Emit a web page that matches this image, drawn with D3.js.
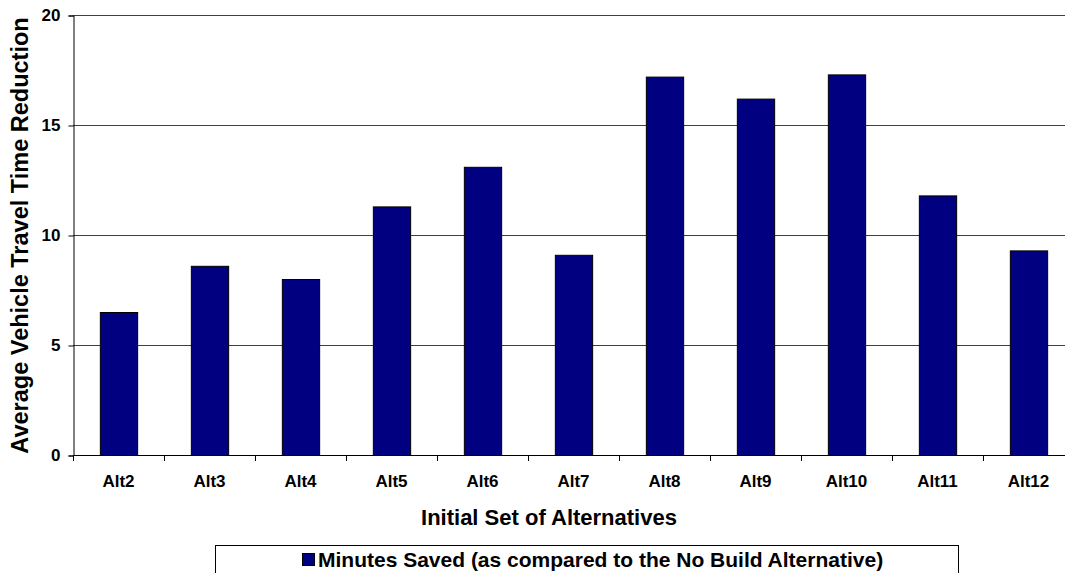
<!DOCTYPE html>
<html>
<head>
<meta charset="utf-8">
<script src="https://cdn.jsdelivr.net/npm/d3@7"></script>
<style>
  html, body { margin: 0; padding: 0; background: #fff; }
  svg { display: block; font-family: "Liberation Sans", Arial, sans-serif; }
</style>
</head>
<body>
<svg id="chart" width="1065" height="573"></svg>
<script>
// Travel time savings per alternative (minutes)
const categories = ["Alt2", "Alt3", "Alt4", "Alt5", "Alt6", "Alt7", "Alt8", "Alt9", "Alt10", "Alt11", "Alt12"];
const minutesSaved = [6.5, 8.6, 8.0, 11.3, 13.1, 9.1, 17.2, 16.2, 17.3, 11.8, 9.3];
const yTicks = [0, 5, 10, 15, 20];
const seriesName = "Minutes Saved (as compared to the No Build Alternative)";
const xTitle = "Initial Set of Alternatives";
const yTitle = "Average Vehicle Travel Time Reduction";

const FONT = "Liberation Sans, Arial, sans-serif";
const svg = d3.select("#chart");
const plot = { left: 73, right: 1074, top: 15, bottom: 455 };

const x = d3.scaleBand()
  .domain(categories)
  .range([plot.left, plot.right])
  .paddingInner(0.59)
  .paddingOuter(0.295);

const y = d3.scaleLinear().domain([0, 20]).range([plot.bottom, plot.top]);

// horizontal gridlines
svg.append("g")
  .selectAll("line")
  .data(yTicks.filter(d => d > 0))
  .join("line")
  .attr("x1", plot.left).attr("x2", plot.right)
  .attr("y1", d => y(d) + 0.5).attr("y2", d => y(d) + 0.5)
  .attr("stroke", "#404040").attr("stroke-width", 1);

// bars
svg.append("g")
  .selectAll("rect")
  .data(minutesSaved)
  .join("rect")
  .attr("x", (d, i) => x(categories[i]) + 0.5)
  .attr("y", d => y(d) + 0.5)
  .attr("width", x.bandwidth())
  .attr("height", d => y(0) - y(d))
  .attr("fill", "#000080")
  .attr("stroke", "#000")
  .attr("stroke-width", 1);

// y axis
const yAxis = svg.append("g")
  .attr("transform", `translate(${plot.left + 0.5},0.5)`)
  .call(d3.axisLeft(y).tickValues(yTicks).tickSize(5).tickPadding(8).tickFormat(d3.format("d")));
yAxis.select(".domain").attr("stroke", "#000");
yAxis.selectAll(".tick line").attr("stroke", "#000");
yAxis.selectAll("text")
  .attr("font-size", 17).attr("font-weight", "bold").attr("fill", "#000")
  .attr("font-family", FONT);

// x axis: baseline with ticks at category boundaries
const step = x.step();
const boundaries = d3.range(categories.length + 1).map(i => plot.left + i * step);
const xg = svg.append("g");
xg.append("line")
  .attr("x1", plot.left).attr("x2", plot.right)
  .attr("y1", plot.bottom + 0.5).attr("y2", plot.bottom + 0.5)
  .attr("stroke", "#000");
xg.selectAll("line.tick")
  .data(boundaries)
  .join("line")
  .attr("class", "tick")
  .attr("x1", d => Math.round(d) + 0.5).attr("x2", d => Math.round(d) + 0.5)
  .attr("y1", plot.bottom).attr("y2", plot.bottom + 6)
  .attr("stroke", "#000");
xg.selectAll("text")
  .data(categories)
  .join("text")
  .attr("x", d => x(d) + x.bandwidth() / 2)
  .attr("y", 487)
  .attr("text-anchor", "middle")
  .attr("font-size", 17).attr("font-weight", "bold")
  .text(d => d);

// axis titles
svg.append("text")
  .attr("x", 549).attr("y", 525)
  .attr("text-anchor", "middle")
  .attr("font-size", 22).attr("font-weight", "bold")
  .text(xTitle);

svg.append("text")
  .attr("transform", `translate(28,235.5) rotate(-90)`)
  .attr("text-anchor", "middle")
  .attr("font-size", 23.5).attr("font-weight", "bold")
  .text(yTitle);

// legend
const legend = svg.append("g");
legend.append("rect")
  .attr("x", 215.5).attr("y", 545.5)
  .attr("width", 743).attr("height", 40)
  .attr("fill", "#fff").attr("stroke", "#000");
legend.append("rect")
  .attr("x", 302.5).attr("y", 553.5)
  .attr("width", 12).attr("height", 12)
  .attr("fill", "#000080").attr("stroke", "#000");
legend.append("text")
  .attr("x", 318).attr("y", 567)
  .attr("font-size", 21).attr("font-weight", "bold")
  .text(seriesName);
</script>
</body>
</html>
